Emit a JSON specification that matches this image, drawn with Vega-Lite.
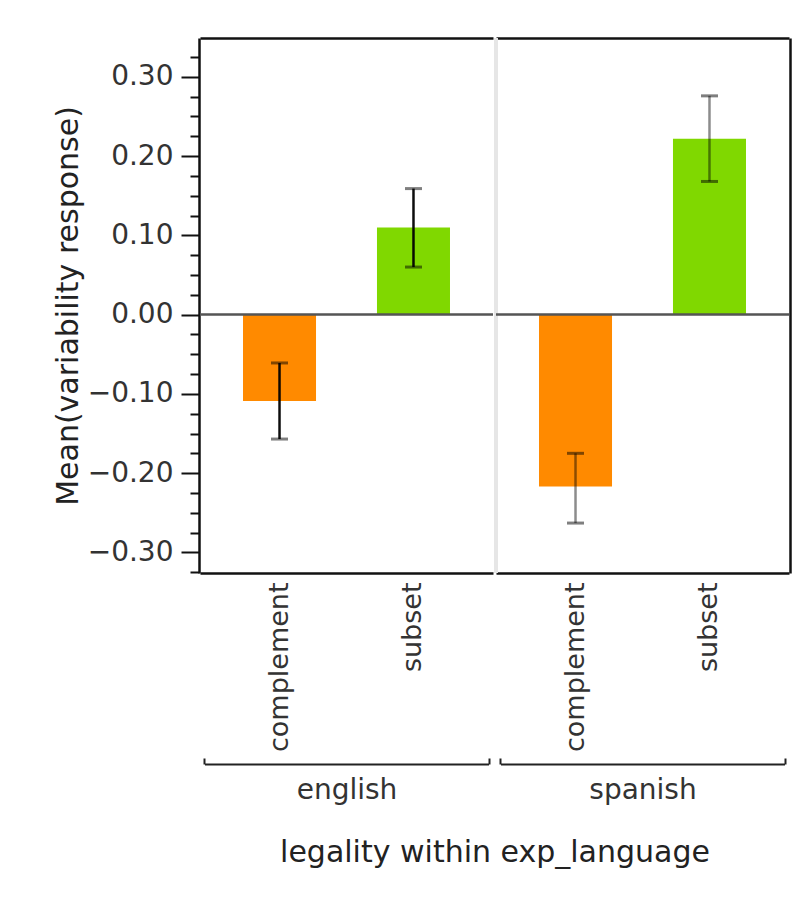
{
  "$schema": "https://vega.github.io/schema/vega-lite/v6.json",
  "padding": {"left": 53, "top": 36, "right": 2, "bottom": 5},
  "background": "white",
  "data": {"values": [
    {"language": "english", "legality": "complement", "mean": -0.109, "lower": -0.157, "upper": -0.061},
    {"language": "english", "legality": "subset", "mean": 0.110, "lower": 0.060, "upper": 0.159},
    {"language": "spanish", "legality": "complement", "mean": -0.217, "lower": -0.263, "upper": -0.175},
    {"language": "spanish", "legality": "subset", "mean": 0.222, "lower": 0.168, "upper": 0.276}
  ]},
  "facet": {
    "column": {
      "field": "language", "type": "nominal", "title": "legality within exp_language",
      "header": {"labels": false, "labelOrient": "bottom", "titleOrient": "bottom", "titleFont": "DejaVu Sans", "titleFontSize": 30, "titleFontWeight": "normal", "titleColor": "#222", "titlePadding": 24}
    }
  },
  "spacing": {"column": 0},
  "resolve": {"scale": {"x": "independent"}},
  "spec": {
    "width": 293,
    "height": 535,
    "layer": [
      {
        "transform": [{"filter": "datum.language === 'spanish'"}],
        "mark": {"type": "rule", "color": "#e6e6e6", "strokeWidth": 4},
        "encoding": {
          "x": {"field": "language", "type": "nominal", "bandPosition": 0, "scale": {"paddingInner": 0, "paddingOuter": 0}, "axis": null}
        }
      },
      {
        "layer": [
          {
            "mark": {"type": "bar"},
            "encoding": {
              "x": {"field": "legality", "type": "nominal", "scale": {"paddingInner": 0.455, "paddingOuter": 0.321},
                "axis": {"orient": "bottom", "labelAngle": -90, "ticks": false, "domainColor": "#111", "domainWidth": 2.5, "labelFont": "DejaVu Sans", "labelFontSize": 27, "labelColor": "#333", "labelPadding": 9, "title": null}},
              "y": {"field": "mean", "type": "quantitative", "title": "Mean(variability response)",
                "scale": {"domain": [-0.326, 0.349], "nice": false, "zero": false},
                "axis": {
                  "orient": "left", "grid": false, "labelOverlap": false, "tickCount": 40,
                  "values": [-0.325, -0.3, -0.275, -0.25, -0.225, -0.2, -0.175, -0.15, -0.125, -0.1, -0.075, -0.05, -0.025, 0, 0.025, 0.05, 0.075, 0.1, 0.125, 0.15, 0.175, 0.2, 0.225, 0.25, 0.275, 0.3, 0.325],
                  "labelExpr": "abs(datum.value*10 - round(datum.value*10)) < 0.001 ? format(datum.value, '.2f') : ''",
                  "tickSize": {"condition": {"test": "abs(datum.value*10 - round(datum.value*10)) < 0.001", "value": 18}, "value": 9},
                  "tickWidth": 2, "tickColor": "#111", "domainColor": "#111", "domainWidth": 2.5,
                  "labelFont": "DejaVu Sans", "labelFontSize": 28, "labelColor": "#333", "labelPadding": 8,
                  "titleFont": "DejaVu Sans", "titleFontSize": 30, "titleFontWeight": "normal", "titleColor": "#222", "titlePadding": 4
                }},
              "y2": {"datum": 0},
              "color": {"field": "legality", "type": "nominal", "scale": {"domain": ["complement", "subset"], "range": ["#FF8A00", "#80D800"]}, "legend": null}
            }
          },
          {
            "mark": {"type": "rule", "color": "#555", "strokeWidth": 2},
            "encoding": {"y": {"datum": 0, "type": "quantitative"}}
          },
          {
            "mark": {"type": "rule", "color": "#000", "strokeWidth": 2.5},
            "encoding": {
              "x": {"field": "legality", "type": "nominal"},
              "y": {"field": "lower", "type": "quantitative"},
              "y2": {"field": "upper"},
              "opacity": {"condition": {"test": "datum.language === 'spanish'", "value": 0.45}, "value": 0.95}
            }
          },
          {
            "mark": {"type": "tick", "size": 17, "thickness": 3, "color": "#000", "opacity": 0.5},
            "encoding": {
              "x": {"field": "legality", "type": "nominal"},
              "y": {"field": "lower", "type": "quantitative"}
            }
          },
          {
            "mark": {"type": "tick", "size": 17, "thickness": 3, "color": "#000", "opacity": 0.5},
            "encoding": {
              "x": {"field": "legality", "type": "nominal"},
              "y": {"field": "upper", "type": "quantitative"}
            }
          }
        ]
      },
      {
        "mark": {"type": "point", "opacity": 0},
        "encoding": {
          "x": {"field": "language", "type": "nominal", "scale": {"paddingInner": 0, "paddingOuter": 0.0158},
            "axis": {"orient": "bottom", "offset": 191, "domainColor": "#222", "domainWidth": 2, "domainDash": [284, 9], "domainDashOffset": 288.5,
              "ticks": true, "tickBand": "extent", "tickSize": -6, "tickWidth": 2, "tickColor": "#222",
              "labelAngle": 0, "labelFont": "DejaVu Sans", "labelFontSize": 28, "labelColor": "#333", "labelPadding": 18, "title": null}}
        }
      },
      {
        "mark": {"type": "point", "opacity": 0},
        "encoding": {
          "x": {"field": "legality", "type": "nominal",
            "axis": {"orient": "top", "labels": false, "ticks": false, "domainColor": "#111", "domainWidth": 2.5, "title": null}},
          "y": {"field": "mean", "type": "quantitative",
            "axis": {"orient": "right", "labels": false, "ticks": false, "domainColor": "#111", "domainWidth": 2.5, "title": null, "grid": false}}
        }
      }
    ],
    "resolve": {"scale": {"x": "independent"}, "axis": {"x": "independent", "y": "independent"}}
  },
  "config": {"view": {"stroke": null}, "axis": {"grid": false}, "font": "DejaVu Sans"}
}
